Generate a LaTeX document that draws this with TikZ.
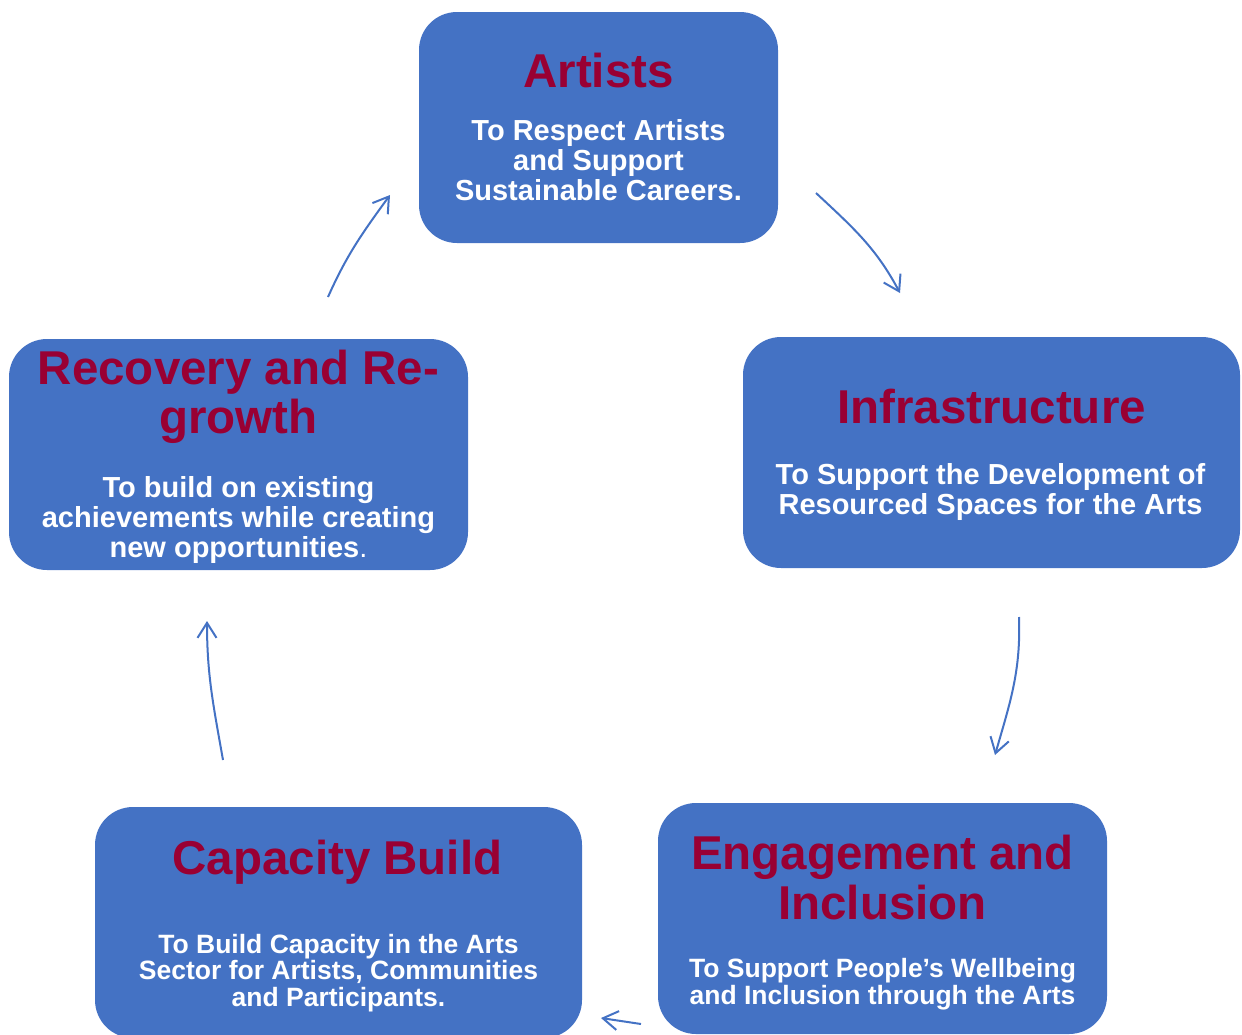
\documentclass[tikz,border=0pt]{standalone}
\usepackage{fontspec}
\setmainfont{Liberation Sans}
\usetikzlibrary{arrows.meta}
\definecolor{boxblue}{RGB}{68,114,196}
\definecolor{titlered}{RGB}{153,0,51}

\begin{document}
\begin{tikzpicture}[x=1pt, y=1pt, >={Straight Barb[length=15pt, width=19pt]},
    box/.style={fill=boxblue, rounded corners=38pt, inner sep=0pt},
    title/.style={anchor=base, align=center, text=titlered,
        font=\bfseries\fontsize{47.5}{49.5}\selectfont},
    body/.style={anchor=base, align=center, text=white,
        font=\bfseries\fontsize{29}{30}\selectfont},
    smallbody/.style={body, font=\bfseries\fontsize{26.5}{26.8}\selectfont},
    link/.style={->, draw=boxblue, line width=2pt}]
        \useasboundingbox (0, 0) rectangle (1242, -1034);
        \clip (0, 0) rectangle (1242, -1034);

        % the five boxes
        \node[box, minimum width=359pt, minimum height=231pt] (art)      at (598.5, -127.5) {};
        \node[box, minimum width=497pt, minimum height=231pt] (infra)    at (991.5, -452.5) {};
        \node[box, minimum width=449pt, minimum height=231pt] (engage)   at (882.5, -918.5) {};
        \node[box, minimum width=487pt, minimum height=231pt] (capacity) at (338.5, -922.5) {};
        \node[box, minimum width=459pt, minimum height=231pt] (recovery) at (238.5, -454.5) {};

        % titles and texts (base = last line)
        \node[title] (artT) at (598.5, -87) {Artists};
        \node[body]  (artB) at (598.5, -200) {To Respect Artists\\and Support\\Sustainable Careers.};

        \node[title] (infraT) at (991.5, -423) {Infrastructure};
        \node[body]  (infraB) at (990.5, -514) {To Support the Development of\\Resourced Spaces for the Arts};

        \node[title] (engageT) at (882.5, -919.3) {Engagement and\\Inclusion};
        \node[smallbody] (engageB) at (882.5, -1004.3)
            {To Support People’s Wellbeing\\and Inclusion through the Arts};

        \node[title] (capacityT) at (337.5, -874) {Capacity Build};
        \node[smallbody] (capacityB) at (338.5, -1006.7)
            {To Build Capacity in the Arts\\Sector for Artists, Communities\\and Participants.};

        \node[title] (recoveryT) at (238.5, -433.5) {Recovery and Re-\\growth};
        \node[body]  (recoveryB) at (238.5, -557.7)
            {To build on existing\\achievements while creating\\new opportunities{\mdseries .}};

        % arrow ends
        \coordinate (a1) at (816, -193);
        \coordinate (a2) at (900, -293);
        \coordinate (b1) at (1019, -617);
        \coordinate (b2) at (995, -755);
        \coordinate (c1) at (641, -1024);
        \coordinate (c2) at (601, -1018);
        \coordinate (d1) at (223, -760);
        \coordinate (d2) at (207, -621);
        \coordinate (e1) at (328, -297);
        \coordinate (e2) at (390, -195);

        \draw[link] (a1) to[out=-43, in=118] (a2);
        \draw[link] (b1) to[out=-88, in=74]  (b2);
        \draw[link] (c1) to (c2);
        \draw[link] (d1) to[out=100, in=-90] (d2);
        \draw[link] (e1) to[out=66, in=-126] (e2);
    \end{tikzpicture}
\end{document}
